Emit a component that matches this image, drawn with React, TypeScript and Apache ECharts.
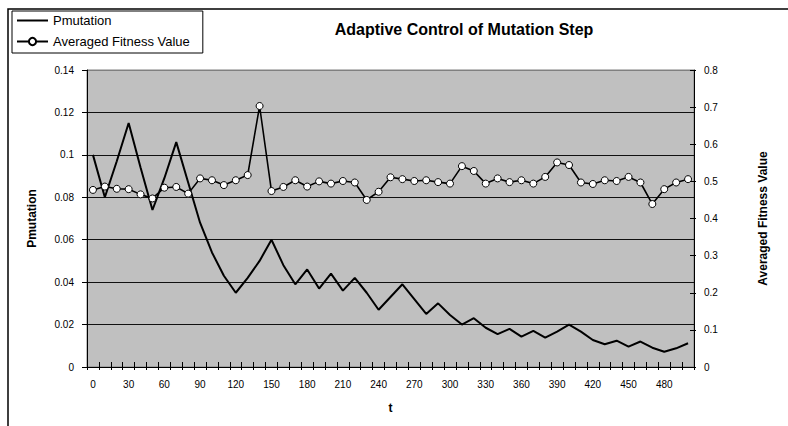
import React, { useEffect, useRef } from "react";
import * as echarts from "echarts";

const categories = [
  "0", "10", "20", "30", "40", "50", "60", "70", "80", "90",
  "100", "110", "120", "130", "140", "150", "160", "170", "180", "190",
  "200", "210", "220", "230", "240", "250", "260", "270", "280", "290",
  "300", "310", "320", "330", "340", "350", "360", "370", "380", "390",
  "400", "410", "420", "430", "440", "450", "460", "470", "480", "490",
  "500",
];

const pmutation = [
  0.1, 0.08, 0.097, 0.115, 0.094, 0.074, 0.089, 0.106, 0.087, 0.068,
  0.054, 0.043, 0.035, 0.042, 0.05, 0.06, 0.048, 0.039, 0.046, 0.037,
  0.044, 0.036, 0.042, 0.035, 0.027, 0.033, 0.039, 0.032, 0.025, 0.03,
  0.0245, 0.02, 0.023, 0.0185, 0.0155, 0.018, 0.0143, 0.017, 0.0138, 0.0167,
  0.02, 0.0167, 0.0127, 0.0107, 0.0124, 0.0096, 0.012, 0.0091, 0.0072, 0.0088,
  0.0112,
];

const fitness = [
  0.477, 0.486, 0.48, 0.479, 0.465, 0.454, 0.483, 0.485, 0.467, 0.508,
  0.503, 0.49, 0.503, 0.517, 0.703, 0.474, 0.485, 0.503, 0.486, 0.5,
  0.494, 0.501, 0.497, 0.45, 0.472, 0.511, 0.506, 0.501, 0.503, 0.498,
  0.494, 0.541, 0.528, 0.494, 0.508, 0.498, 0.503, 0.494, 0.512, 0.551,
  0.544, 0.497, 0.493, 0.503, 0.501, 0.512, 0.497, 0.439, 0.479, 0.497,
  0.506,
];

const FONT = "'Liberation Sans', Arial, sans-serif";

export default function App() {
  const ref = useRef<HTMLDivElement>(null);

  useEffect(() => {
    const chart = echarts.init(ref.current as HTMLDivElement, null, { renderer: "svg" });
    const option: any = {
      animation: false,
      backgroundColor: "#ffffff",
      title: {
        text: "Adaptive Control of Mutation Step",
        left: 464,
        top: 21,
        textAlign: "center",
        padding: 0,
        textStyle: { fontFamily: FONT, fontSize: 16, fontWeight: "bold", color: "#000" },
      },
      legend: {
        orient: "vertical",
        left: 12,
        top: 11,
        padding: [3, 13, 5, 4],
        itemGap: 8,
        itemWidth: 31,
        itemHeight: 9,
        backgroundColor: "#ffffff",
        borderColor: "#000",
        borderWidth: 1,
        borderRadius: 0,
        textStyle: { fontFamily: FONT, fontSize: 13, color: "#000" },
        data: [
          {
            name: "Pmutation",
            itemStyle: { color: "rgba(0,0,0,0)", borderWidth: 0, opacity: 0 },
          },
          { name: "Averaged Fitness Value" },
        ],
      },
      grid: {
        left: 87,
        right: 94,
        top: 70,
        bottom: 59,
        show: true,
        backgroundColor: "#c0c0c0",
        borderColor: "#808080",
        borderWidth: 1,
      },
      xAxis: [
        {
          type: "category",
          data: categories,
          boundaryGap: true,
          position: "bottom",
          name: "t",
          nameLocation: "middle",
          nameGap: 35,
          nameTextStyle: { fontFamily: FONT, fontSize: 12, fontWeight: "bold", color: "#000" },
          axisLine: { show: true, lineStyle: { color: "#000", width: 1 } },
          axisTick: { show: true, interval: 0, length: 3, lineStyle: { color: "#000" } },
          axisLabel: { interval: 2, margin: 12, fontFamily: FONT, fontSize: 10, color: "#000" },
          splitLine: { show: false },
        },
        {
          type: "category",
          data: categories,
          boundaryGap: true,
          position: "bottom",
          offset: 0,
          axisLine: { show: false },
          axisTick: { show: true, inside: true, interval: 0, length: 5, lineStyle: { color: "#000" } },
          axisLabel: { show: false },
          splitLine: { show: false },
        },
      ],
      yAxis: [
        {
          type: "value",
          min: 0,
          max: 0.14,
          interval: 0.02,
          position: "left",
          name: "Pmutation",
          nameLocation: "middle",
          nameGap: 49,
          nameRotate: 90,
          nameTextStyle: { fontFamily: FONT, fontSize: 12, fontWeight: "bold", color: "#000" },
          axisLine: { show: true, lineStyle: { color: "#000", width: 1 } },
          axisTick: { show: true, length: 5, lineStyle: { color: "#000" } },
          axisLabel: {
            margin: 13,
            fontFamily: FONT,
            fontSize: 10,
            color: "#000",
            formatter: (v: number) => String(+v.toFixed(2)),
          },
          splitLine: {
            show: true,
            lineStyle: {
              color: ["#000", "#111", "#111", "#111", "#111", "#111", "#111", "#808080"],
              width: 1,
            },
          },
        },
        {
          type: "value",
          min: 0,
          max: 0.8,
          interval: 0.1,
          position: "right",
          name: "Averaged Fitness Value",
          nameLocation: "middle",
          nameGap: 63,
          nameRotate: 90,
          nameTextStyle: { fontFamily: FONT, fontSize: 12, fontWeight: "bold", color: "#000" },
          axisLine: { show: true, lineStyle: { color: "#000", width: 1 } },
          axisTick: { show: true, length: 2, lineStyle: { color: "#000" } },
          axisLabel: {
            margin: 10,
            fontFamily: FONT,
            fontSize: 10,
            color: "#000",
            formatter: (v: number) => String(+v.toFixed(1)),
          },
          splitLine: { show: false },
        },
        {
          type: "value",
          min: 0,
          max: 0.8,
          interval: 0.1,
          position: "right",
          offset: 0,
          axisLine: { show: false },
          axisTick: { show: true, inside: true, length: 4, lineStyle: { color: "#000" } },
          axisLabel: { show: false },
          splitLine: { show: false },
        },
      ],
      series: [
        {
          name: "Pmutation",
          type: "line",
          xAxisIndex: 0,
          yAxisIndex: 0,
          data: pmutation,
          symbol: "none",
          showSymbol: false,
          lineStyle: { color: "#000", width: 2 },
          itemStyle: { color: "#000" },
        },
        {
          name: "Averaged Fitness Value",
          type: "line",
          xAxisIndex: 0,
          yAxisIndex: 1,
          data: fitness,
          symbol: "circle",
          symbolSize: 7,
          showSymbol: true,
          lineStyle: { color: "#000", width: 1.6 },
          itemStyle: { color: "#ffffff", borderColor: "#000", borderWidth: 1 },
        },
      ],
      graphic: [
        {
          type: "rect",
          silent: true,
          shape: { x: 8, y: 9, width: 900, height: 600 },
          style: { fill: "none", stroke: "#000", lineWidth: 1.5 },
          z: 0,
        },
      ],
    };
    chart.setOption(option);
    return () => {
      chart.dispose();
    };
  }, []);

  return (
    <div
      ref={ref}
      style={{ position: "absolute", left: 0, top: 0, width: 788, height: 426 }}
    />
  );
}
